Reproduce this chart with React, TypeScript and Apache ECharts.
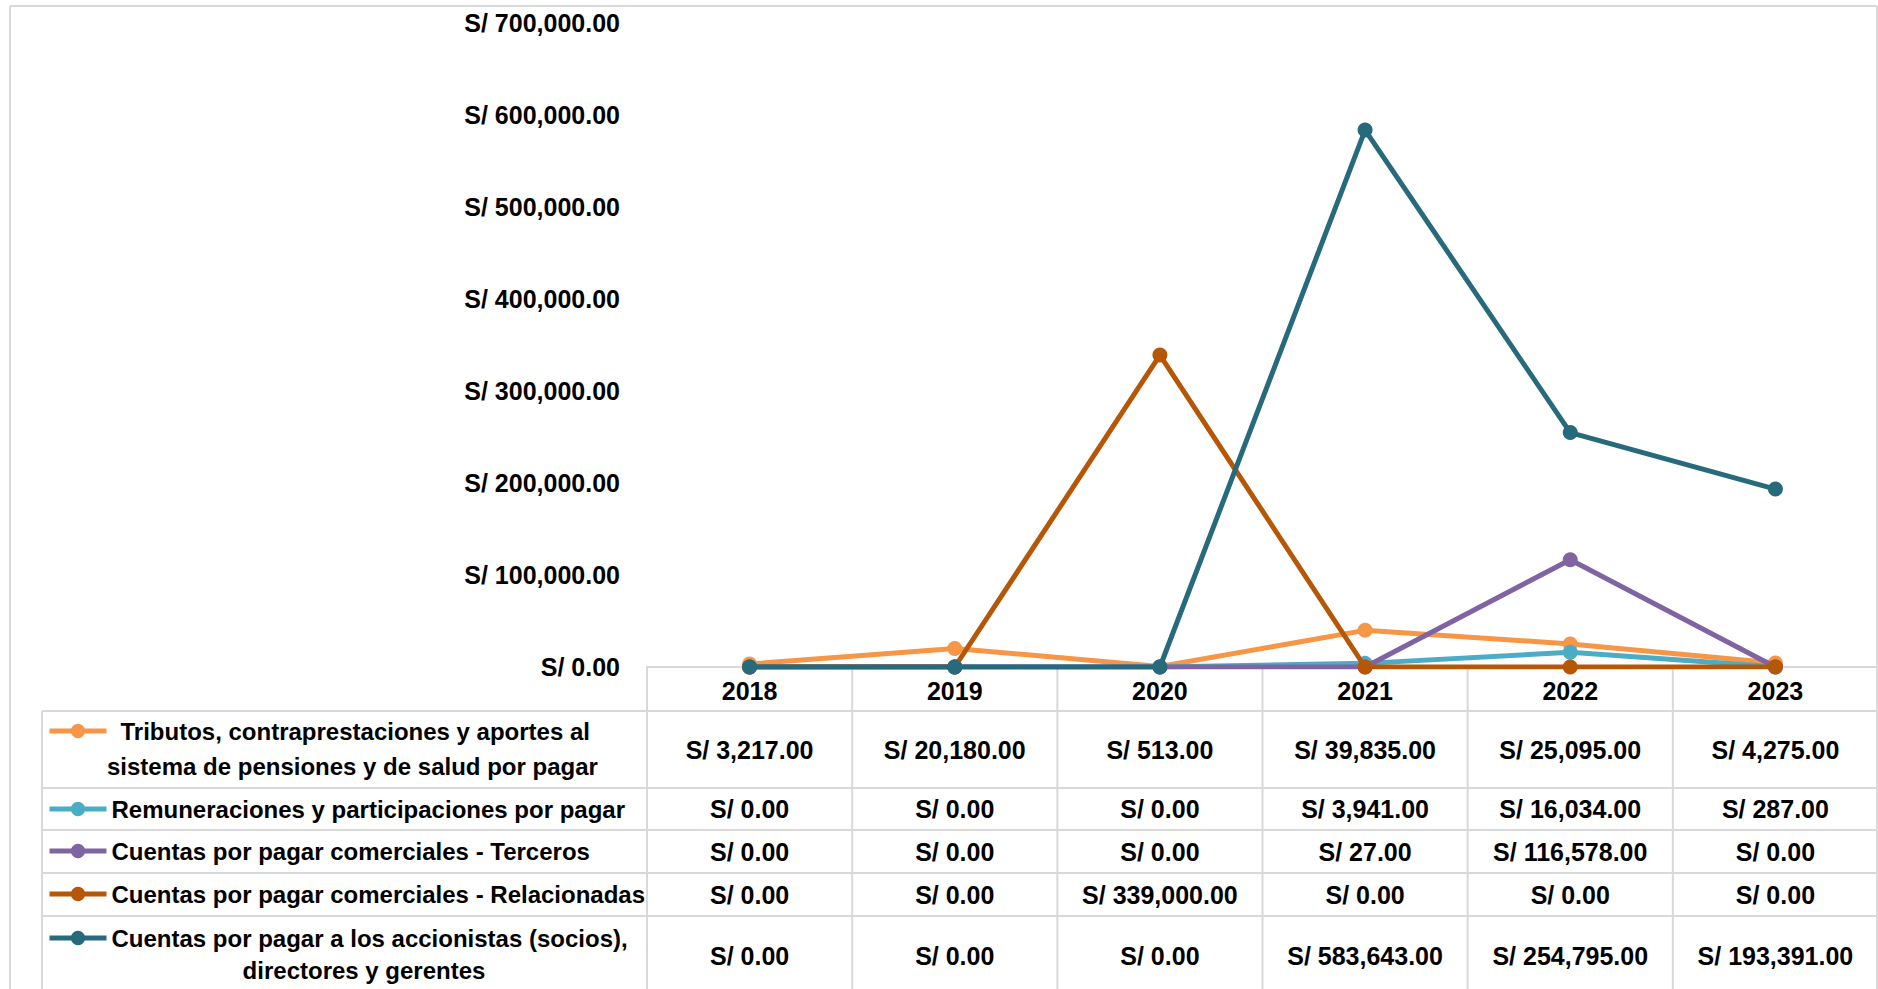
import { useEffect, useRef } from 'react';
import * as echarts from 'echarts';

const years = ['2018', '2019', '2020', '2021', '2022', '2023'];

const legendLines: string[][] = [
  ['Tributos, contraprestaciones y aportes al', 'sistema de pensiones y de salud por pagar'],
  ['Remuneraciones y participaciones por pagar'],
  ['Cuentas por pagar comerciales - Terceros'],
  ['Cuentas por pagar comerciales - Relacionadas'],
  ['Cuentas por pagar a los accionistas (socios),', 'directores y gerentes'],
];

const tributos = [3217, 20180, 513, 39835, 25095, 4275];
const remuneraciones = [0, 0, 0, 3941, 16034, 287];
const terceros = [0, 0, 0, 27, 116578, 0];
const relacionadas = [0, 0, 339000, 0, 0, 0];
const accionistas = [0, 0, 0, 583643, 254795, 193391];

const yMin = 0;
const yMax = 700000;
const yInterval = 100000;

const colors = ['#F79646', '#4BACC6', '#8064A2', '#B65708', '#276A7C'];

const FONT = "'Liberation Sans Narrow', 'Arial Narrow', 'Liberation Sans', Arial, sans-serif";
const FS_NUM = 25;
const FS_LEG = 24;
const GRID_COLOR = '#D9D9D9';

// layout
const W = 1878;
const H = 989;
const GRID_LEFT = 647;
const GRID_TOP = 23;
const GRID_BOTTOM_Y = 667;
const TABLE_LEFT = 42;
const HEADER_BOTTOM = 711;
const ROW_BOUNDS = [711, 788, 830, 873, 916, 995];
const LEGEND_ICON_LEFT = 47;
const LEGEND_FIRST_LINE_Y = [731, 809, 851, 894, 938];
const SECOND_LINE = [
  { x: 107, y: 766, align: 'left' },
  null,
  null,
  null,
  { x: 364, y: 970, align: 'center' },
];

const fmt = (v: number) =>
  'S/ ' + v.toLocaleString('en-US', { minimumFractionDigits: 2, maximumFractionDigits: 2 });

export default function App() {
  const ref = useRef<HTMLDivElement>(null);

  useEffect(() => {
    document.body.style.margin = '0';
    const chart = echarts.init(ref.current!, undefined, { renderer: 'svg' });
    const allData = [tributos, remuneraciones, terceros, relacionadas, accionistas];
    const names = legendLines.map((l) => l.join(' '));

    chart.setOption({
      animation: false,
      backgroundColor: '#fff',
      textStyle: { fontFamily: FONT },
      grid: {
        left: GRID_LEFT,
        top: GRID_TOP,
        right: 0,
        bottom: H - GRID_BOTTOM_Y,
        containLabel: false,
      },
      xAxis: {
        type: 'category',
        data: years,
        boundaryGap: true,
        axisLine: { show: true, lineStyle: { color: GRID_COLOR, width: 2 } },
        axisTick: { show: false },
        splitLine: { show: false },
        axisLabel: {
          margin: 11,
          fontSize: FS_NUM,
          fontWeight: 'bold',
          fontFamily: FONT,
          color: '#000',
        },
      },
      yAxis: {
        type: 'value',
        min: yMin,
        max: yMax,
        interval: yInterval,
        axisLine: { show: false },
        axisTick: { show: false },
        splitLine: { show: false },
        axisLabel: {
          margin: 27,
          fontSize: FS_NUM,
          fontWeight: 'bold',
          fontFamily: FONT,
          color: '#000',
          formatter: (v: number) => fmt(v),
        },
      },
      legend: names.map((name, i) => ({
        data: [name],
        left: LEGEND_ICON_LEFT,
        top: LEGEND_FIRST_LINE_Y[i] - 15,
        padding: 0,
        itemWidth: 57,
        itemHeight: 18,
        selectedMode: false,
        lineStyle: { width: 5 },
        formatter: () => legendLines[i][0],
        textStyle: {
          fontSize: FS_LEG,
          fontWeight: 'bold',
          fontFamily: FONT,
          color: '#000',
          lineHeight: 30,
          padding: i === 0 ? [0, 0, 0, 9] : 0,
        },
      })),
      series: names.map((name, i) => ({
        type: 'line',
        name,
        data: allData[i],
        symbol: 'circle',
        symbolSize: 15,
        showSymbol: true,
        lineStyle: { width: 5, color: colors[i] },
        itemStyle: { color: colors[i] },
        z: 2 + i,
      })),
    });

    // Build table from library scales
    const centers = years.map((_, i) => chart.convertToPixel({ xAxisIndex: 0 }, i) as number);
    const colW = centers.length > 1 ? centers[1] - centers[0] : 205;
    const graphic: any[] = [];
    const line = (x1: number, y1: number, x2: number, y2: number) => ({
      type: 'line',
      silent: true,
      shape: { x1, y1, x2, y2 },
      style: { stroke: GRID_COLOR, lineWidth: 2 },
      z: 0,
    });
    // outer border
    graphic.push(line(10, 6, W - 1, 6));
    graphic.push(line(10, 6, 10, H));
    graphic.push(line(W - 1, 6, W - 1, H));
    // horizontal table lines
    ROW_BOUNDS.forEach((y) => graphic.push(line(TABLE_LEFT, y, W - 1, y)));
    // vertical lines
    graphic.push(line(TABLE_LEFT, HEADER_BOTTOM, TABLE_LEFT, H));
    for (let k = 0; k <= years.length; k++) {
      const x = centers[0] - colW / 2 + k * colW;
      graphic.push(line(x, GRID_BOTTOM_Y, x, H));
    }
    // values
    allData.forEach((arr, r) => {
      const cy = (ROW_BOUNDS[r] + ROW_BOUNDS[r + 1]) / 2;
      arr.forEach((v, c) => {
        graphic.push({
          type: 'text',
          silent: true,
          x: centers[c],
          y: cy,
          style: {
            text: fmt(v),
            fontSize: FS_NUM,
            fontWeight: 'bold',
            fontFamily: FONT,
            fill: '#000',
            textAlign: 'center',
            textVerticalAlign: 'middle',
          },
        });
      });
    });
    // second lines of legend labels
    legendLines.forEach((ls, i) => {
      const s = SECOND_LINE[i];
      if (ls.length > 1 && s) {
        graphic.push({
          type: 'text',
          silent: true,
          x: s.x,
          y: s.y,
          style: {
            text: ls[1],
            fontSize: FS_LEG,
            fontWeight: 'bold',
            fontFamily: FONT,
            fill: '#000',
            textAlign: s.align,
            textVerticalAlign: 'middle',
          },
        });
      }
    });
    chart.setOption({ graphic });

    return () => chart.dispose();
  }, []);

  return <div ref={ref} style={{ width: W, height: H }} />;
}
